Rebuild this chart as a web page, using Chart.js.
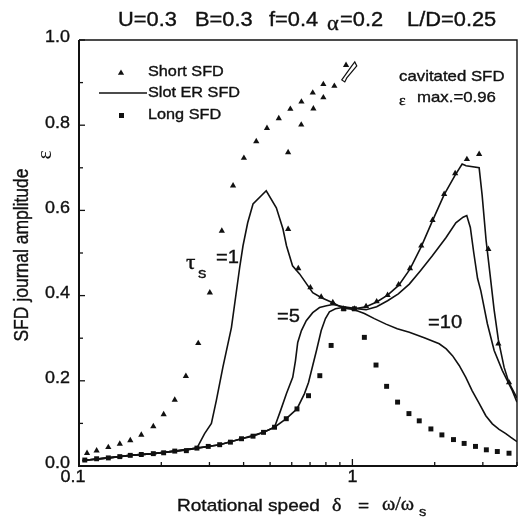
<!DOCTYPE html>
<html>
<head>
<meta charset="utf-8">
<script src="https://cdn.jsdelivr.net/npm/chart.js@4/dist/chart.umd.min.js"></script>
<style>
html,body{margin:0;padding:0;background:#fff;}
</style>
</head>
<body>
<canvas id="myChart" width="521" height="526"></canvas>
<script>
"use strict";

// Short SFD (triangles)
let shortX=[0.107,0.116,0.128,0.141,0.154,0.169,0.187,0.204,0.224,0.246,0.273,0.301,0.333,0.366,0.401,0.445,0.487,0.538,0.593,0.651,0.716,0.783,0.948,
	0.582,0.650,0.720,0.783,0.859,
	0.582,0.634,0.702,0.769,0.848,0.929,1.017,1.122,1.227,1.345,1.476,1.624,1.786,1.964,2.166,2.376,2.623,2.908,3.142,3.419,3.740];
let shortY=[0.030,0.036,0.044,0.052,0.060,0.073,0.093,0.121,0.155,0.211,0.288,0.407,0.552,0.658,0.723,0.762,0.793,0.816,0.838,0.855,0.876,0.896,0.941,
	0.736,0.801,0.839,0.865,0.892,
	0.556,0.464,0.419,0.397,0.384,0.369,0.369,0.375,0.386,0.401,0.426,0.464,0.517,0.577,0.638,0.687,0.720,0.732,0.509,0.287,0.196];

// Long SFD (squares)
let longX=[0.105,0.116,0.128,0.141,0.154,0.169,0.187,0.204,0.224,0.247,0.270,0.297,0.327,0.358,0.393,0.433,0.473,0.519,0.573,0.627,0.691,0.760,0.836,0.929,
	1.017,1.106,1.220,1.334,1.463,1.610,1.756,1.937,2.125,2.343,2.563,2.820,3.090,3.389,3.740];
let longY=[0.014,0.017,0.019,0.022,0.025,0.027,0.029,0.031,0.035,0.036,0.042,0.046,0.050,0.056,0.064,0.070,0.079,0.091,0.111,0.134,0.165,0.212,0.283,0.369,
	0.369,0.302,0.237,0.187,0.150,0.123,0.106,0.087,0.073,0.062,0.053,0.046,0.038,0.034,0.030];

// Slot ER SFD, tau_s = 1, 5, 10
let slot1X=[0.103,0.128,0.154,0.187,0.224,0.247,0.270,0.288,0.305,0.318,0.336,0.361,0.387,0.398,0.414,0.433,0.484,0.527,0.557,0.574,0.604,0.641,0.716,0.771,0.848,0.929,
	1.017,1.122,1.227,1.345,1.476,1.624,1.786,1.964,2.166,2.376,2.520,2.605,2.908,2.982,3.083,3.190,3.300,3.419,3.587,3.740,4.000];
let slot1Y=[0.013,0.019,0.025,0.029,0.035,0.037,0.042,0.076,0.100,0.154,0.232,0.325,0.466,0.517,0.571,0.615,0.646,0.606,0.557,0.517,0.470,0.451,0.407,0.395,0.383,0.370,
	0.369,0.374,0.385,0.401,0.424,0.462,0.515,0.576,0.637,0.683,0.709,0.705,0.700,0.636,0.530,0.448,0.366,0.296,0.232,0.195,0.160];

let slot5X=[0.103,0.128,0.154,0.187,0.224,0.270,0.327,0.393,0.433,0.473,0.519,0.546,0.574,0.605,0.619,0.631,0.651,0.678,0.716,0.758,0.804,0.848,0.929,
	1.017,1.122,1.227,1.345,1.472,1.615,1.771,1.964,2.198,2.390,2.540,2.620,2.700,2.780,2.870,2.950,3.117,3.300,3.536,3.846,4.000];
let slot5Y=[0.013,0.019,0.025,0.029,0.035,0.042,0.050,0.064,0.070,0.079,0.091,0.130,0.170,0.208,0.247,0.290,0.318,0.341,0.360,0.372,0.376,0.379,0.374,
	0.370,0.367,0.374,0.388,0.404,0.427,0.458,0.494,0.536,0.571,0.584,0.588,0.560,0.500,0.440,0.411,0.334,0.271,0.224,0.177,0.150];

let slot10X=[0.103,0.128,0.154,0.187,0.224,0.270,0.327,0.393,0.473,0.519,0.573,0.627,0.668,0.691,0.716,0.739,0.769,0.797,0.824,0.867,0.922,
	1.017,1.106,1.203,1.327,1.459,1.615,1.831,2.078,2.204,2.323,2.458,2.599,2.740,2.908,3.076,3.250,3.440,3.640,3.800,4.000];
let slot10Y=[0.013,0.019,0.025,0.029,0.035,0.042,0.050,0.064,0.079,0.091,0.111,0.134,0.170,0.196,0.236,0.271,0.318,0.346,0.362,0.369,0.372,
	0.367,0.358,0.346,0.333,0.322,0.314,0.301,0.287,0.275,0.259,0.236,0.208,0.177,0.147,0.118,0.099,0.086,0.076,0.067,0.057];

let xTicks=[0.1,0.2,0.3,0.4,0.5,0.6,0.7,0.8,0.9,1,2,3,4];
let xLabels={0.1:"0.1",1:"1"};
let yTicks=[0,0.1,0.2,0.3,0.4,0.5,0.6,0.7,0.8,0.9,1.0];
let yLabels={0:"0.0",0.2:"0.2",0.4:"0.4",0.6:"0.6",0.8:"0.8",1:"1.0"};

const INK="#111";
const SX=1.12;
const SANS="'Liberation Sans', Arial, sans-serif";
const GREEK="'Liberation Serif', 'DejaVu Serif', serif";

function pts(xs, ys) {
	let out=[];
	for(let i=0;i<xs.length;i++) out.push({x:xs[i], y:ys[i]});
	return out;
}

function lineSet(xs, ys) {
	return {data:pts(xs,ys), showLine:true, borderColor:INK, borderWidth:1.6, pointRadius:0, fill:false, tension:0};
}

// text a bit wider and heavier, like the scanned original
function txt(ctx, s, x, y, size, align, family) {
	ctx.save();
	ctx.translate(x, y);
	ctx.scale(SX, 1);
	ctx.font=size+"px "+(family || SANS);
	ctx.fillStyle=INK;
	ctx.strokeStyle=INK;
	ctx.lineWidth=0.35;
	ctx.textAlign=align || "left";
	ctx.textBaseline="middle";
	ctx.fillText(s, 0, 0);
	ctx.strokeText(s, 0, 0);
	ctx.restore();
}

function tri(ctx, x, y, r) {
	ctx.beginPath();
	ctx.moveTo(x, y-r);
	ctx.lineTo(x+r*0.866, y+r*0.5);
	ctx.lineTo(x-r*0.866, y+r*0.5);
	ctx.closePath();
	ctx.fill();
}

let decor={
	id:"decor",
	afterDraw(chart) {
		let ctx=chart.ctx;
		let a=chart.chartArea;
		let xs=chart.scales.x, ys=chart.scales.y;
		ctx.save();
		ctx.strokeStyle=INK;
		ctx.fillStyle=INK;

		// frame
		ctx.lineWidth=1.4;
		ctx.beginPath();
		ctx.moveTo(a.left, a.top); ctx.lineTo(a.right, a.top); ctx.lineTo(a.right, a.bottom);
		ctx.stroke();
		ctx.lineWidth=2;
		ctx.beginPath();
		ctx.moveTo(a.left, a.top); ctx.lineTo(a.left, a.bottom); ctx.lineTo(a.right, a.bottom);
		ctx.stroke();

		// inward ticks
		ctx.lineWidth=1.3;
		for(let v of xTicks) {
			let px=xs.getPixelForValue(v);
			let len=xLabels[v] ? 7 : 4;
			ctx.beginPath(); ctx.moveTo(px, a.bottom); ctx.lineTo(px, a.bottom-len); ctx.stroke();
			if(xLabels[v]) txt(ctx, xLabels[v], px-(v===0.1?6:0), a.bottom+12, 16, "center");
		}
		for(let v of yTicks) {
			let py=ys.getPixelForValue(v);
			let key=Math.round(v*10)/10;
			let len=yLabels[key]!==undefined ? 6 : 4;
			ctx.beginPath(); ctx.moveTo(a.left, py); ctx.lineTo(a.left+len, py); ctx.stroke();
			if(yLabels[key]!==undefined) txt(ctx, yLabels[key], a.left-9, py-2, 16, "right");
		}

		// title
		let ty=21;
		txt(ctx, "U=0.3", 118, ty, 19.5);
		txt(ctx, "B=0.3", 195, ty, 19.5);
		txt(ctx, "f=0.4", 269, ty, 19.5);
		txt(ctx, "\u03b1", 327, ty+4, 20, "left", GREEK);
		txt(ctx, "=0.2", 340, ty, 19.5);
		txt(ctx, "L/D=0.25", 407, ty, 19.5);

		// axis titles
		txt(ctx, "Rotational speed", 177, 506, 17);
		txt(ctx, "\u03b4", 332, 506, 18, "left", GREEK);
		txt(ctx, "=", 358, 506, 17);
		txt(ctx, "\u03c9/\u03c9", 382, 505, 18, "left", GREEK);
		txt(ctx, "s", 419, 512, 13);

		ctx.save();
		ctx.translate(23, 255);
		ctx.rotate(-Math.PI/2);
		ctx.scale(1, SX);
		ctx.font="17.5px "+SANS;
		ctx.lineWidth=0.35;
		ctx.textAlign="center"; ctx.textBaseline="middle";
		ctx.fillText("SFD journal amplitude", 0, 0);
		ctx.strokeText("SFD journal amplitude", 0, 0);
		ctx.restore();
		ctx.save();
		ctx.translate(45, 155);
		ctx.rotate(-Math.PI/2);
		ctx.font="22px "+GREEK;
		ctx.textAlign="center"; ctx.textBaseline="middle";
		ctx.fillText("\u03b5", 0, 0);
		ctx.restore();

		// legend
		tri(ctx, 121, 73, 3.6);
		txt(ctx, "Short SFD", 148, 72, 14.5);
		ctx.lineWidth=1.6;
		ctx.beginPath(); ctx.moveTo(99, 93); ctx.lineTo(147, 93); ctx.stroke();
		txt(ctx, "Slot ER SFD", 148, 93, 14.5);
		ctx.fillRect(119, 113, 5, 5);
		txt(ctx, "Long SFD", 148, 115, 14.5);

		txt(ctx, "cavitated SFD", 399, 77, 15);
		txt(ctx, "\u03b5", 399, 101, 14, "left", GREEK);
		txt(ctx, "max.=0.96", 417, 98, 15);

		// tau_s labels
		txt(ctx, "\u03c4", 186, 263, 21, "left", GREEK);
		txt(ctx, "s", 198, 274, 15);
		txt(ctx, "=1", 216, 258, 18);
		txt(ctx, "=5", 277, 317, 18);
		txt(ctx, "=10", 428, 323, 18);

		// small jump marker near the upper branch end
		let jx=xs.getPixelForValue(0.93), jy=ys.getPixelForValue(0.925);
		ctx.lineWidth=1.2;
		ctx.beginPath();
		ctx.moveTo(jx-2, jy+8);
		ctx.lineTo(jx+8, jy-6);
		ctx.lineTo(jx+11, jy-10);
		ctx.lineTo(jx+13, jy-6);
		ctx.lineTo(jx+3, jy+6);
		ctx.lineTo(jx+1, jy+10);
		ctx.closePath();
		ctx.stroke();

		ctx.restore();
	}
};

let chart=new Chart(document.getElementById("myChart"), {
	type:"scatter",
	data:{
		datasets:[
			lineSet(slot1X, slot1Y),
			lineSet(slot5X, slot5Y),
			lineSet(slot10X, slot10Y),
			{data:pts(shortX, shortY), pointStyle:"triangle", pointRadius:3.6, backgroundColor:INK, borderWidth:0},
			{data:pts(longX, longY), pointStyle:"rect", pointRadius:3.5, backgroundColor:INK, borderWidth:0}
		]
	},
	options:{
		responsive:false,
		animation:false,
		devicePixelRatio:1,
		layout:{padding:{left:79, right:2, top:40, bottom:60}},
		plugins:{legend:{display:false}, tooltip:{enabled:false}},
		scales:{
			x:{type:"logarithmic", min:0.1, max:4, grid:{display:false}, border:{display:false}, ticks:{display:false},
				afterFit:function(s){ s.height=0; }},
			y:{type:"linear", min:0, max:1, grid:{display:false}, border:{display:false}, ticks:{display:false},
				afterFit:function(s){ s.width=0; }}
		}
	},
	plugins:[decor]
});
</script>
</body>
</html>
